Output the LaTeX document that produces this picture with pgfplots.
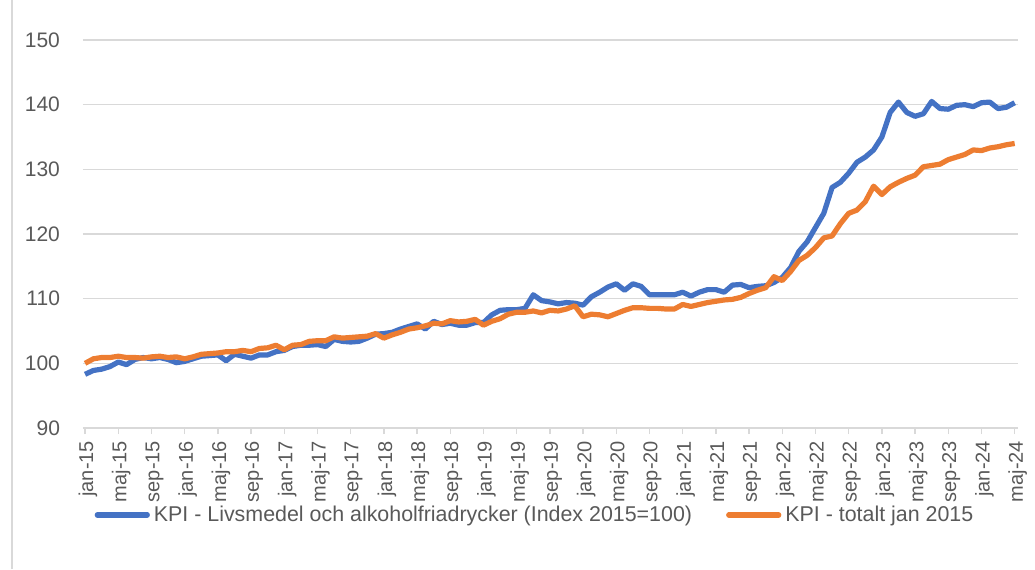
\documentclass[border=0pt]{standalone}
\usepackage{pgfplots}
\pgfplotsset{compat=1.18}
\usepackage{pgfplotstable}
\usepackage{fontspec}
\setmainfont{Liberation Sans}

\definecolor{kpiblue}{HTML}{4472C4}
\definecolor{kpiorange}{HTML}{ED7D31}
\definecolor{gridgray}{HTML}{D9D9D9}
\definecolor{txt}{HTML}{595959}

% i = months since jan-15
\pgfplotstableread{
i food kpi
0 98.3 100.0
1 98.9 100.7
2 99.1 100.9
3 99.5 100.9
4 100.2 101.1
5 99.8 100.9
6 100.6 100.9
7 100.9 100.8
8 100.7 101.0
9 100.9 101.1
10 100.6 100.9
11 100.1 101.0
12 100.3 100.7
13 100.7 101.0
14 101.1 101.4
15 101.2 101.5
16 101.3 101.6
17 100.4 101.8
18 101.4 101.8
19 101.1 102.0
20 100.8 101.8
21 101.3 102.3
22 101.3 102.4
23 101.8 102.8
24 102.0 102.1
25 102.6 102.8
26 102.8 102.9
27 102.8 103.4
28 102.9 103.5
29 102.6 103.5
30 103.7 104.1
31 103.4 103.9
32 103.3 104.0
33 103.4 104.1
34 103.9 104.2
35 104.5 104.6
36 104.6 103.9
37 104.8 104.4
38 105.3 104.8
39 105.7 105.3
40 106.1 105.5
41 105.3 105.8
42 106.5 106.2
43 106.0 106.1
44 106.2 106.6
45 105.9 106.4
46 105.9 106.5
47 106.3 106.8
48 106.3 105.9
49 107.5 106.5
50 108.2 106.9
51 108.3 107.6
52 108.3 107.9
53 108.5 107.9
54 110.6 108.1
55 109.7 107.8
56 109.5 108.2
57 109.2 108.1
58 109.4 108.4
59 109.3 108.9
60 109.0 107.2
61 110.3 107.6
62 111.0 107.5
63 111.8 107.2
64 112.3 107.7
65 111.3 108.2
66 112.3 108.6
67 111.9 108.6
68 110.6 108.5
69 110.6 108.5
70 110.6 108.4
71 110.6 108.4
72 111.0 109.1
73 110.4 108.8
74 111.0 109.1
75 111.4 109.4
76 111.4 109.6
77 111.0 109.8
78 112.1 109.9
79 112.2 110.2
80 111.7 110.8
81 111.9 111.3
82 112.0 111.7
83 112.5 113.4
84 113.3 112.8
85 114.8 114.2
86 117.3 115.9
87 118.8 116.7
88 121.0 117.9
89 123.2 119.4
90 127.2 119.7
91 128.0 121.6
92 129.4 123.2
93 131.1 123.7
94 131.9 125.0
95 133.0 127.4
96 135.0 126.1
97 138.8 127.3
98 140.4 128.0
99 138.8 128.6
100 138.2 129.1
101 138.6 130.4
102 140.5 130.6
103 139.4 130.8
104 139.3 131.5
105 139.9 131.9
106 140.0 132.3
107 139.7 133.0
108 140.3 132.9
109 140.4 133.3
110 139.4 133.5
111 139.6 133.8
112 140.3 134.0
}\kpidata

\begin{document}
\begin{tikzpicture}
\path[use as bounding box] (0,0) rectangle (517.5pt,284.5pt);
\draw[gridgray, line width=1pt] (6pt,0) -- (6pt,284.5pt);
\begin{axis}[
    at={(41.5pt,70.5pt)},
    anchor=south west,
    scale only axis,
    width=467.5pt,
    height=194pt,
    xmin=-0.25, xmax=112.4,
    ymin=90, ymax=150,
    ytick={90,100,...,150},
    xtick={0,4,...,112},
    xticklabels={jan-15,maj-15,sep-15,jan-16,maj-16,sep-16,jan-17,maj-17,sep-17,
        jan-18,maj-18,sep-18,jan-19,maj-19,sep-19,jan-20,maj-20,sep-20,jan-21,
        maj-21,sep-21,jan-22,maj-22,sep-22,jan-23,maj-23,sep-23,jan-24,maj-24},
    axis lines*=left,
    y axis line style={draw=none},
    x axis line style={gridgray, line width=0.75pt},
    ytick style={draw=none},
    xtick style={gridgray, line width=0.75pt},
    tick align=outside,
    major tick length=3pt,
    ymajorgrids=true,
    grid style={gridgray, line width=0.75pt},
    /pgf/number format/assume math mode=true,
    tick label style={font=\fontsize{10.5}{13}\selectfont, text=txt},
    y tick label style={xshift=-5pt},
    x tick label style={rotate=90, anchor=east, yshift=-1.5pt,
        font=\fontsize{10}{12}\selectfont},
    legend style={at={(0.4845,-0.224)}, anchor=center, draw=none, fill=none,
        font=\fontsize{10.7}{13}\selectfont, text=txt,
        legend columns=2, /tikz/every even column/.append style={column sep=15pt}},
    legend cell align=left,
    legend image code/.code={\draw[#1, line width=2.6pt, line cap=round] (0pt,0pt) -- (25pt,0pt);},
]
\addplot[kpiblue, line width=2.6pt, line join=round] table[x=i, y=food] {\kpidata};
\addplot[kpiorange, line width=2.6pt, line join=round] table[x=i, y=kpi] {\kpidata};
\legend{KPI - Livsmedel och alkoholfriadrycker (Index 2015=100), KPI - totalt jan 2015}
\end{axis}
\end{tikzpicture}
\end{document}
